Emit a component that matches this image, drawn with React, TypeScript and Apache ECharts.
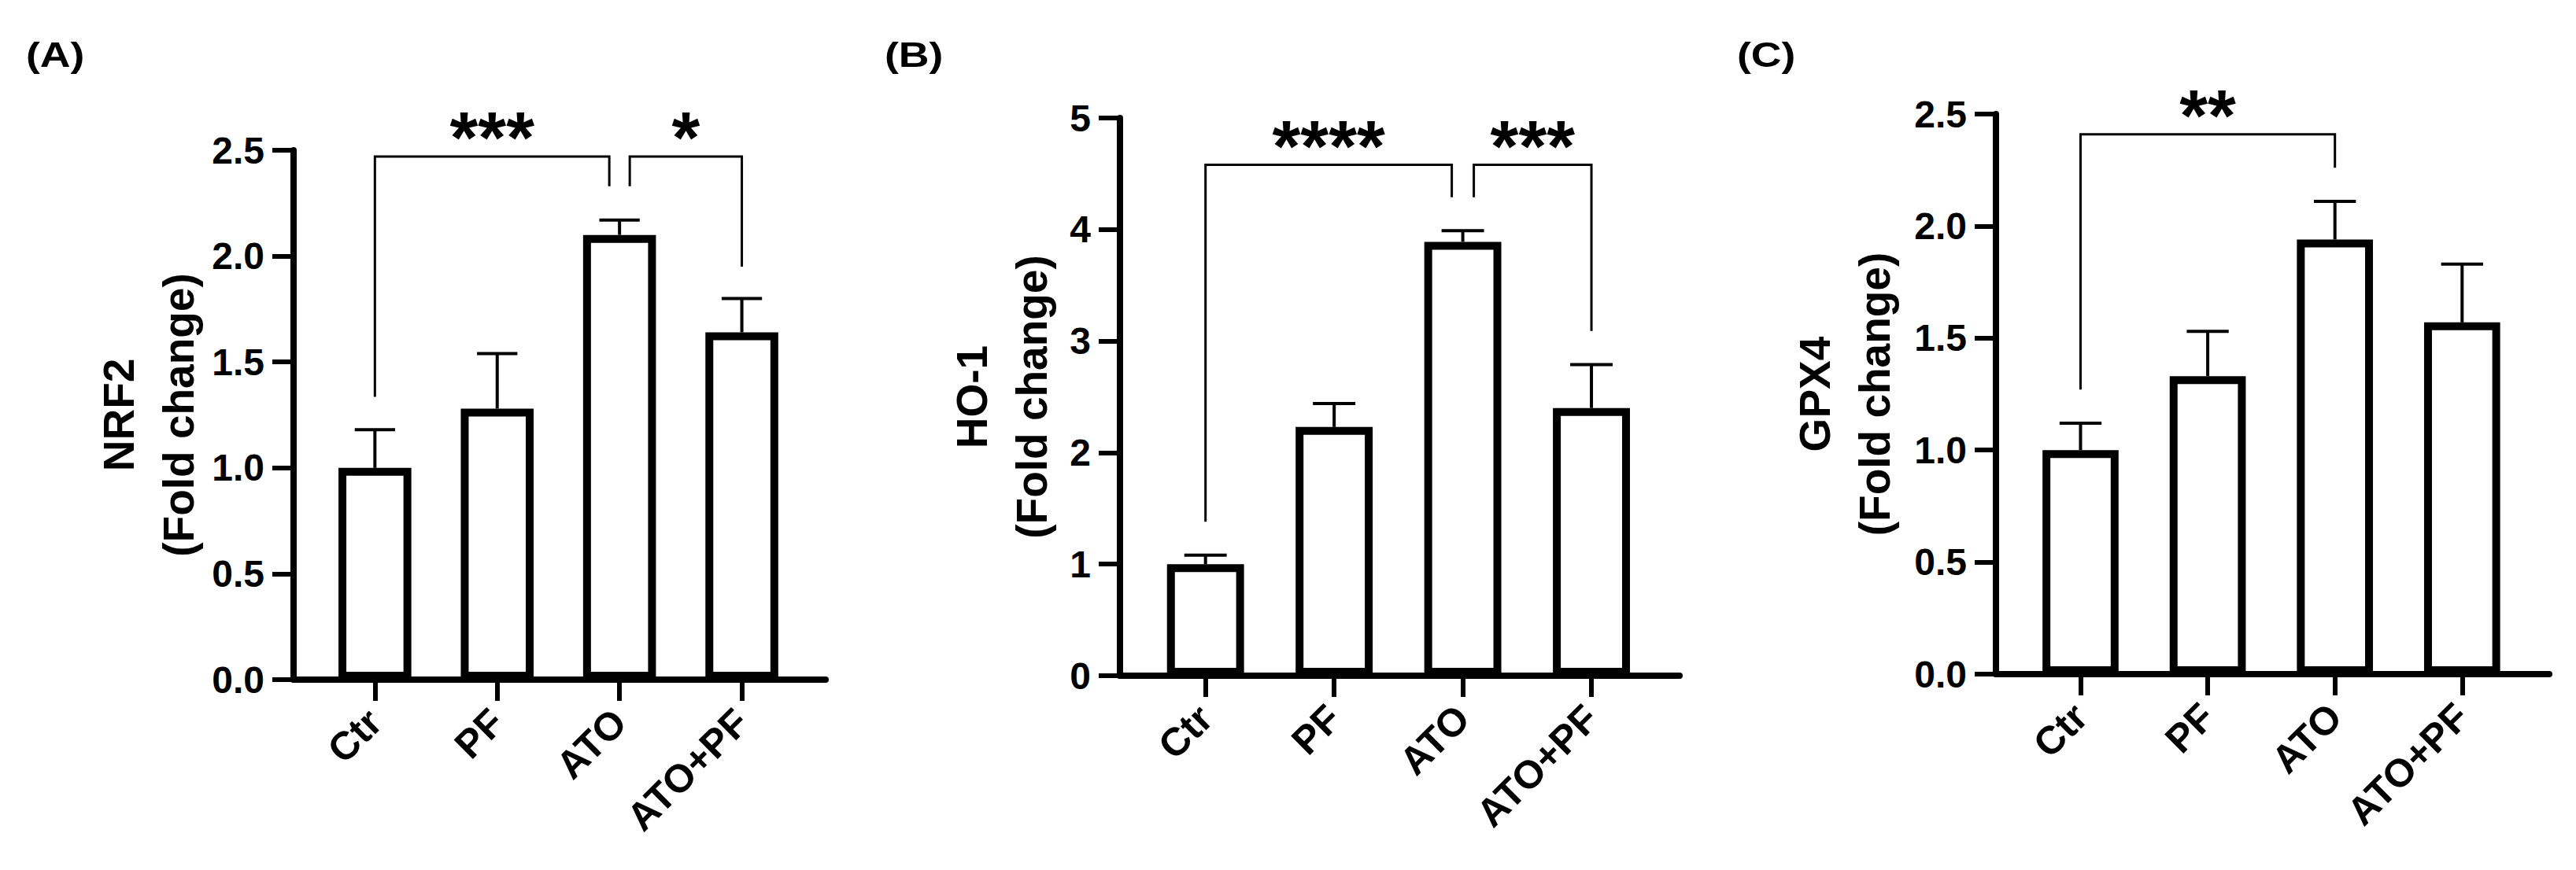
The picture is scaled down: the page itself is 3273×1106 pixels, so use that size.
import React, { useEffect, useRef } from "react";
import * as echarts from "echarts";

// ---------- data ----------
const CATEGORIES = ["Ctr", "PF", "ATO", "ATO+PF"];

const NRF2_MEAN = [1.0, 1.28, 2.1, 1.64];
const NRF2_SEM = [0.18, 0.26, 0.07, 0.16];
const HO1_MEAN = [1.0, 2.23, 3.89, 2.4];
const HO1_SEM = [0.08, 0.21, 0.1, 0.39];
const GPX4_MEAN = [1.0, 1.33, 1.94, 1.57];
const GPX4_SEM = [0.12, 0.2, 0.17, 0.26];

// brackets: [fromIndex, toIndex, topValue, leftLegEnd, rightLegEnd]
const NRF2_BRACKETS = [
  [0, 2, 2.47, 1.335, 2.33],
  [2, 3, 2.47, 2.33, 1.95],
];
const NRF2_STARS = ["***", "*"];
const HO1_BRACKETS = [
  [0, 2, 4.58, 1.38, 4.29],
  [2, 3, 4.58, 4.29, 3.09],
];
const HO1_STARS = ["****", "***"];
const GPX4_BRACKETS = [[0, 2, 2.41, 1.27, 2.26]];
const GPX4_STARS = ["**"];

const Y_TICKS_A = [0, 0.5, 1.0, 1.5, 2.0, 2.5];
const Y_TICKS_B = [0, 1, 2, 3, 4, 5];
const Y_TICKS_C = [0, 0.5, 1.0, 1.5, 2.0, 2.5];

// ---------- style ----------
const FONT = 'Arial, "Liberation Sans", Helvetica, sans-serif';
const X_MIN = -0.665;
const X_MAX = 3.685;

type Panel = {
  letter: string;
  letterX: number;
  title: string;
  mean: number[];
  sem: number[];
  brackets: number[][];
  stars: string[];
  shifts: number[][];
  yTicks: number[];
  decimals: number;
  grid: { left: number; top: number; width: number; height: number };
  nameGap: number;
};

const PANELS: Panel[] = [
  {
    letter: "(A)",
    letterX: 33,
    title: "NRF2\n(Fold change)",
    mean: NRF2_MEAN,
    sem: NRF2_SEM,
    brackets: NRF2_BRACKETS,
    stars: NRF2_STARS,
    shifts: [
      [0, -13],
      [13, 0],
    ],
    yTicks: Y_TICKS_A,
    decimals: 1,
    grid: { left: 373, top: 191, width: 676, height: 673 },
    nameGap: 108,
  },
  {
    letter: "(B)",
    letterX: 1124,
    title: "HO-1\n(Fold change)",
    mean: HO1_MEAN,
    sem: HO1_SEM,
    brackets: HO1_BRACKETS,
    stars: HO1_STARS,
    shifts: [
      [0, -14],
      [14, 0],
    ],
    yTicks: Y_TICKS_B,
    decimals: 0,
    grid: { left: 1423, top: 150, width: 711, height: 709 },
    nameGap: 74,
  },
  {
    letter: "(C)",
    letterX: 2207,
    title: "GPX4\n(Fold change)",
    mean: GPX4_MEAN,
    sem: GPX4_SEM,
    brackets: GPX4_BRACKETS,
    stars: GPX4_STARS,
    shifts: [[0, 0]],
    yTicks: Y_TICKS_C,
    decimals: 1,
    grid: { left: 2536, top: 145, width: 703, height: 712 },
    nameGap: 116,
  },
];

function buildOption() {
  const grids: any[] = [];
  const xAxes: any[] = [];
  const yAxes: any[] = [];
  const series: any[] = [];
  const graphics: any[] = [];

  PANELS.forEach((p, k) => {
    const spacing = p.grid.width / (X_MAX - X_MIN);
    const borderW = 10;
    const barW = 0.66 * spacing - borderW;
    const capHalf = (0.33 * spacing) / 2;
    const yMax = p.yTicks[p.yTicks.length - 1];
    const yInt = p.yTicks[1] - p.yTicks[0];

    grids.push({ ...p.grid, containLabel: false });

    xAxes.push({
      type: "value",
      gridIndex: k,
      min: X_MIN,
      max: X_MAX,
      splitLine: { show: false },
      axisLine: {
        show: true,
        onZero: false,
        lineStyle: { color: "#000", width: 8 },
      },
      axisTick: {
        show: true,
        customValues: [0, 1, 2, 3],
        length: 27,
        lineStyle: { color: "#000", width: 6 },
      },
      axisLabel: {
        show: true,
        customValues: [0, 1, 2, 3],
        formatter: (v: number) => CATEGORIES[Math.round(v)] ?? "",
        rotate: 45,
        margin: 46,
        fontSize: 50,
        fontWeight: "bold",
        fontFamily: FONT,
        color: "#000",
      },
    });

    yAxes.push({
      type: "value",
      gridIndex: k,
      min: 0,
      max: yMax,
      interval: yInt,
      splitLine: { show: false },
      axisLine: {
        show: true,
        onZero: false,
        lineStyle: { color: "#000", width: 8 },
      },
      axisTick: {
        show: true,
        length: 27,
        lineStyle: { color: "#000", width: 6 },
      },
      axisLabel: {
        show: true,
        margin: 37,
        formatter: (v: number) => v.toFixed(p.decimals),
        fontSize: 48,
        fontWeight: "bold",
        fontFamily: FONT,
        color: "#000",
      },
      name: p.title,
      nameLocation: "middle",
      nameGap: p.nameGap,
      nameTextStyle: {
        fontSize: 55,
        fontWeight: "bold",
        fontFamily: FONT,
        color: "#000",
        lineHeight: 76,
        align: "center",
      },
    });

    // bars
    series.push({
      type: "bar",
      xAxisIndex: k,
      yAxisIndex: k,
      barWidth: barW,
      data: p.mean.map((m, i) => [i, m]),
      itemStyle: { color: "#fff", borderColor: "#000", borderWidth: borderW },
      z: 2,
    });

    // error bars (upper only)
    series.push({
      type: "custom",
      xAxisIndex: k,
      yAxisIndex: k,
      clip: false,
      z: 3,
      data: p.mean.map((m, i) => [i, m, p.sem[i]]),
      renderItem: (params: any, api: any) => {
        const x = api.value(0);
        const m = api.value(1);
        const s = api.value(2);
        const a = api.coord([x, m]);
        const b = api.coord([x, m + s]);
        return {
          type: "group",
          children: [
            {
              type: "line",
              shape: { x1: a[0], y1: a[1], x2: b[0], y2: b[1] },
              style: { stroke: "#000", lineWidth: 4 },
            },
            {
              type: "line",
              shape: { x1: b[0] - capHalf, y1: b[1], x2: b[0] + capHalf, y2: b[1] },
              style: { stroke: "#000", lineWidth: 4 },
            },
          ],
        };
      },
    });

    // significance brackets
    series.push({
      type: "custom",
      xAxisIndex: k,
      yAxisIndex: k,
      clip: false,
      z: 4,
      data: p.brackets,
      renderItem: (params: any, api: any) => {
        const i = params.dataIndex;
        const from = api.value(0);
        const to = api.value(1);
        const top = api.value(2);
        const l = api.value(3);
        const r = api.value(4);
        const sl = p.shifts[i][0];
        const sr = p.shifts[i][1];
        const pL = api.coord([from, l]);
        const pT1 = api.coord([from, top]);
        const pT2 = api.coord([to, top]);
        const pR = api.coord([to, r]);
        const midX = (pT1[0] + sl + pT2[0] + sr) / 2;
        return {
          type: "group",
          children: [
            {
              type: "polyline",
              shape: {
                points: [
                  [pL[0] + sl, pL[1]],
                  [pT1[0] + sl, pT1[1]],
                  [pT2[0] + sr, pT2[1]],
                  [pR[0] + sr, pR[1]],
                ],
              },
              style: { stroke: "#000", lineWidth: 3, fill: null },
            },
            {
              type: "text",
              x: midX,
              y: pT1[1] - 24,
              style: {
                text: p.stars[i],
                fill: "#000",
                fontSize: 92,
                fontWeight: "bold",
                fontFamily: FONT,
                align: "center",
                verticalAlign: "middle",
                textAlign: "center",
                textVerticalAlign: "middle",
              },
            },
          ],
        };
      },
    });

    graphics.push({
      type: "text",
      x: p.letterX,
      y: 70,
      scaleX: 1.22,
      style: {
        text: p.letter,
        fill: "#000",
        font: `bold 44px ${FONT}`,
        textAlign: "left",
        textVerticalAlign: "middle",
      },
    });
  });

  return {
    animation: false,
    backgroundColor: "#fff",
    grid: grids,
    xAxis: xAxes,
    yAxis: yAxes,
    series,
    graphic: graphics,
  };
}

export default function App() {
  const ref = useRef<HTMLDivElement>(null);
  useEffect(() => {
    if (!ref.current) return;
    const chart = echarts.init(ref.current, null, { renderer: "svg" });
    chart.setOption(buildOption() as any);
    return () => chart.dispose();
  }, []);
  return (
    <div
      ref={ref}
      style={{ position: "absolute", left: 0, top: 0, width: 3273, height: 1106, background: "#fff" }}
    />
  );
}
